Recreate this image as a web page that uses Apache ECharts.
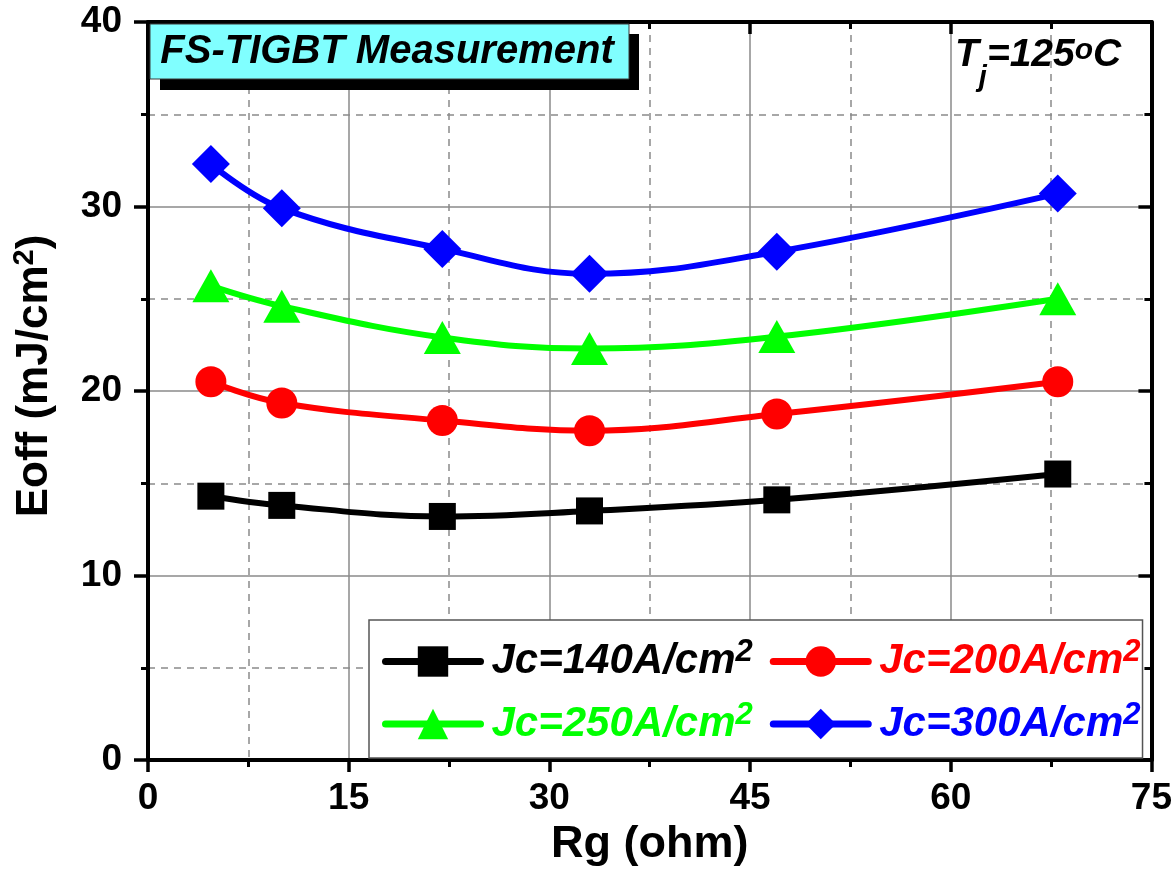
<!DOCTYPE html>
<html>
<head>
<meta charset="utf-8">
<script src="https://cdn.jsdelivr.net/npm/echarts@6/dist/echarts.min.js"></script>
<style>
html,body{margin:0;padding:0;background:#fff;}
#chart{width:1175px;height:872px;}
</style>
</head>
<body>
<div id="chart"></div>
<script>
// ---- data ----
var rg = [4.7, 10, 22, 33, 47, 68];
var e140 = [14.3, 13.8, 13.2, 13.5, 14.1, 15.5];
var e200 = [20.5, 19.35, 18.4, 17.85, 18.75, 20.5];
var e250 = [25.7, 24.6, 22.9, 22.3, 22.95, 25.0];
var e300 = [32.3, 29.9, 27.7, 26.35, 27.55, 30.7];
var seriesNames = ['Jc=140A/cm2', 'Jc=200A/cm2', 'Jc=250A/cm2', 'Jc=300A/cm2'];
var seriesColors = ['#000000', '#ff0000', '#00ff00', '#0000ff'];
var seriesSymbols = ['rect', 'circle', 'triangle', 'diamond'];
var xTicks = [0, 15, 30, 45, 60, 75];
var yTicks = [0, 10, 20, 30, 40];
var titleText = 'FS-TIGBT Measurement';

function pairs(xs, ys) { return xs.map(function (x, i) { return [x, ys[i]]; }); }
var allValues = [e140, e200, e250, e300];
var symbolSizes = [27, 31, [37, 33], 38];

var FONT = "'Liberation Sans', Arial, sans-serif";

var chart = echarts.init(document.getElementById('chart'), null, {renderer: 'canvas'});

var series = allValues.map(function (vals, i) {
  return {
    name: seriesNames[i],
    type: 'line',
    data: pairs(rg, vals),
    smooth: 0.4,
    symbol: seriesSymbols[i],
    symbolSize: symbolSizes[i],
    showAllSymbol: true,
    lineStyle: {color: seriesColors[i], width: 6},
    itemStyle: {color: seriesColors[i]},
    emphasis: {disabled: true},
    z: 3
  };
});

function legendRich(color) {
  return {
    a: {fontFamily: FONT, fontSize: 42, fontWeight: 'bold', fontStyle: 'italic', color: color, lineHeight: 49},
    s: {fontFamily: FONT, fontSize: 31, fontWeight: 'bold', fontStyle: 'italic', color: color, lineHeight: 13, verticalAlign: 'top'}
  };
}

var option = {
  animation: false,
  backgroundColor: '#ffffff',
  grid: {left: 148, right: 23.5, top: 22, bottom: 112, containLabel: false},
  xAxis: [{
    type: 'value', min: xTicks[0], max: xTicks[xTicks.length - 1], interval: 15,
    position: 'bottom',
    name: 'Rg (ohm)', nameLocation: 'middle', nameGap: 62,
    nameTextStyle: {fontFamily: FONT, fontSize: 45, fontWeight: 'bold', color: '#000'},
    axisLine: {show: true, onZero: false, lineStyle: {color: '#000', width: 4}},
    axisTick: {show: true, inside: false, length: 12, lineStyle: {color: '#000', width: 3.5}},
    minorTick: {show: true, splitNumber: 2, length: 7, lineStyle: {color: '#000', width: 3}},
    axisLabel: {margin: 20, fontFamily: FONT, fontSize: 37, fontWeight: 'bold', color: '#000'},
    splitLine: {show: true, lineStyle: {color: '#8a8a8a', width: 1.5, type: 'solid'}},
    minorSplitLine: {show: true, lineStyle: {color: '#8a8a8a', width: 1.5, type: [7, 6]}}
  }, {
    type: 'value', min: xTicks[0], max: xTicks[xTicks.length - 1], interval: 15,
    position: 'top',
    axisLine: {show: true, onZero: false, lineStyle: {color: '#000', width: 4}},
    axisTick: {show: true, inside: true, length: 12, lineStyle: {color: '#000', width: 3.5}},
    minorTick: {show: true, splitNumber: 2, length: 7, lineStyle: {color: '#000', width: 3}},
    axisLabel: {show: false},
    splitLine: {show: false}
  }],
  yAxis: [{
    type: 'value', min: yTicks[0], max: yTicks[yTicks.length - 1], interval: 10,
    position: 'left',
    name: '{a|Eoff (mJ/cm}{s|2}{a|)}', nameLocation: 'middle', nameGap: 88, nameRotate: 90,
    nameTextStyle: {
      padding: [0, 0, 0, 30],
      rich: {
        a: {fontFamily: FONT, fontSize: 44, fontWeight: 'bold', color: '#000', lineHeight: 50},
        s: {fontFamily: FONT, fontSize: 29, fontWeight: 'bold', color: '#000', lineHeight: 18, verticalAlign: 'top'}
      }
    },
    axisLine: {show: true, onZero: false, lineStyle: {color: '#000', width: 4}},
    axisTick: {show: true, inside: false, length: 14, lineStyle: {color: '#000', width: 3.5}},
    minorTick: {show: true, splitNumber: 2, length: 7, lineStyle: {color: '#000', width: 3}},
    axisLabel: {margin: 26, fontFamily: FONT, fontSize: 37, fontWeight: 'bold', color: '#000'},
    splitLine: {show: true, lineStyle: {color: '#8a8a8a', width: 1.5, type: 'solid'}},
    minorSplitLine: {show: true, lineStyle: {color: '#8a8a8a', width: 1.5, type: [7, 6]}}
  }, {
    type: 'value', min: yTicks[0], max: yTicks[yTicks.length - 1], interval: 10,
    position: 'right',
    axisLine: {show: true, onZero: false, lineStyle: {color: '#000', width: 4}},
    axisTick: {show: true, inside: true, length: 13, lineStyle: {color: '#000', width: 3.5}},
    minorTick: {show: true, splitNumber: 2, length: 7, lineStyle: {color: '#000', width: 3}},
    axisLabel: {show: false},
    splitLine: {show: false}
  }],
  legend: {
    show: true,
    orient: 'horizontal',
    left: 369, top: 620, width: 762,
    padding: [17, 2, 13, 13],
    itemGap: 17,
    itemWidth: 95, itemHeight: 38,
    backgroundColor: '#ffffff',
    borderColor: '#555555', borderWidth: 1.5, borderRadius: 0,
    selectedMode: false,
    lineStyle: {width: 7, cap: 'round'},
    textStyle: {padding: [0, 0, 0, 6]},
    data: seriesNames.map(function (n, i) {
      return {name: n, textStyle: {color: seriesColors[i], rich: legendRich(seriesColors[i])}};
    }),
    formatter: function (name) {
      return '{a|' + name.slice(0, -1) + '}{s|2}';
    },
    z: 10
  },
  graphic: [
    {type: 'rect', z: 20, shape: {x: 160, y: 34, width: 479, height: 56}, style: {fill: '#000'}},
    {type: 'rect', z: 21, shape: {x: 150, y: 24, width: 479, height: 55}, style: {fill: '#80ffff', stroke: '#3a3a3a', lineWidth: 1}},
    {type: 'text', z: 22, x: 387, y: 52, style: {
      text: titleText, fontFamily: FONT, fontSize: 40, fontWeight: 'bold', fontStyle: 'italic',
      fill: '#000', align: 'center', verticalAlign: 'middle'}},
    {type: 'text', z: 22, x: 955, y: 36, style: {
      text: '{b|T}{j|j}{b|=125}{o|o}{b|C}',
      align: 'left', verticalAlign: 'top',
      rich: {
        b: {fontFamily: FONT, fontSize: 39, fontWeight: 'bold', fontStyle: 'italic', fill: '#000', lineHeight: 40, verticalAlign: 'top'},
        j: {fontFamily: FONT, fontSize: 29, fontWeight: 'bold', fontStyle: 'italic', fill: '#000', lineHeight: 56, verticalAlign: 'bottom'},
        o: {fontFamily: FONT, fontSize: 30, fontWeight: 'bold', fontStyle: 'italic', fill: '#000', lineHeight: 24, verticalAlign: 'top'}
      }}}
  ],
  series: series
};
chart.setOption(option);
</script>
</body>
</html>
